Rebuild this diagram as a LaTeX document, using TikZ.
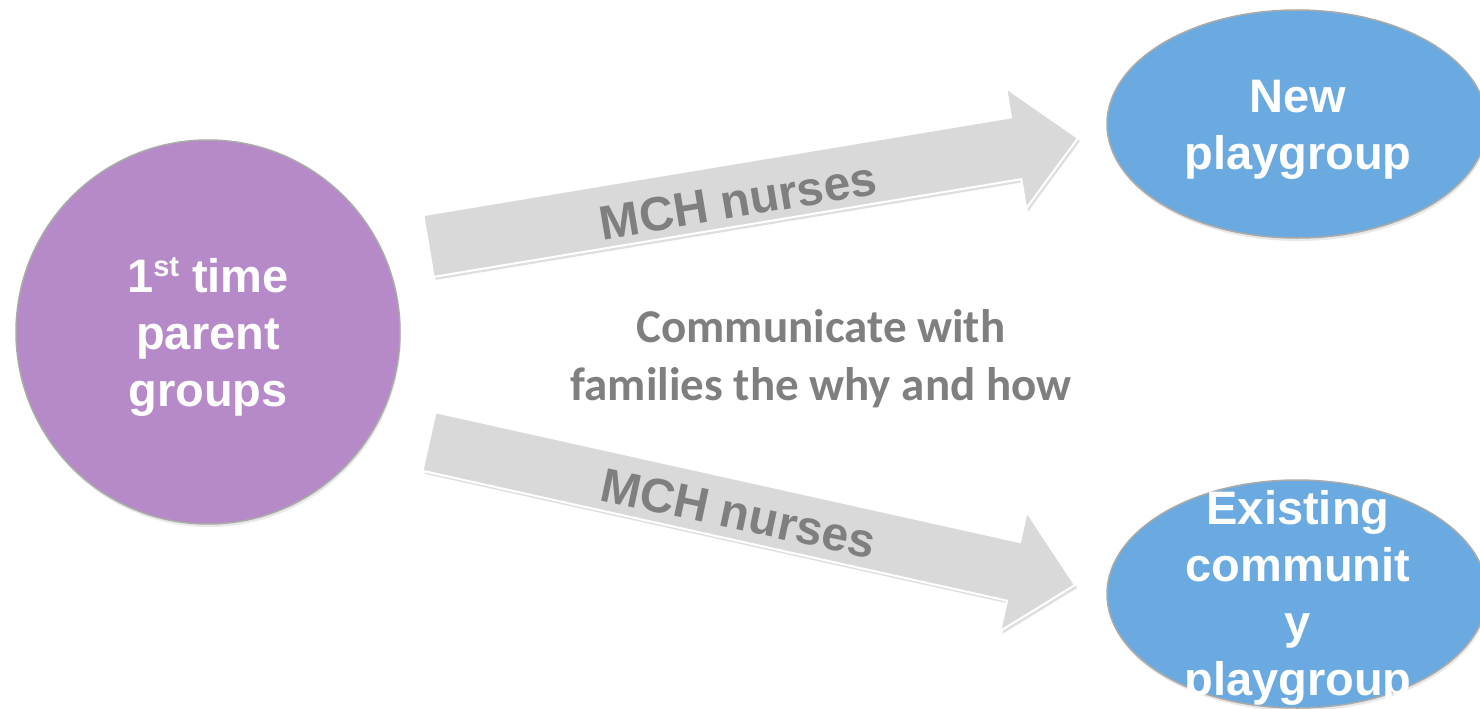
\documentclass[tikz,border=0pt]{standalone}
\usepackage{fontspec}
\setmainfont{Liberation Sans}
\newfontfamily\calib{Carlito}
\usetikzlibrary{calc,shadows,shapes.geometric}
\definecolor{purplefill}{RGB}{182,137,200}
\definecolor{bluefill}{RGB}{106,170,225}
\definecolor{outlinegray}{RGB}{170,170,170}
\definecolor{arrowgray}{RGB}{217,217,217}
\definecolor{textgray}{RGB}{127,127,127}
\newcommand\blockarr[6]{%
  \coordinate (#6base) at ($(#2)!#5!(#1)$);
  \filldraw[blockarrowstyle] ($(#1)!#3!90:(#2)$) -- ($(#6base)!#3!-90:(#1)$) -- ($(#6base)!#4!-90:(#1)$) -- (#2) -- ($(#6base)!#4!90:(#1)$) -- ($(#6base)!#3!90:(#1)$) -- ($(#1)!#3!-90:(#2)$) -- cycle;
}
\begin{document}
\begin{tikzpicture}[x=1pt,y=-1pt,
  bubble/.style={draw=outlinegray, line width=1.5pt,
    drop shadow={opacity=0.18, shadow xshift=1pt, shadow yshift=-3pt}},
  purplecircle/.style={bubble, circle, fill=purplefill, minimum size=384pt, inner sep=0pt},
  blueellipse/.style={bubble, ellipse, fill=bluefill, minimum width=380pt, minimum height=228pt, inner sep=0pt},
  whitetext/.style={text=white, font={\fontsize{47}{57}\selectfont\bfseries}, align=center, inner sep=0pt},
  arrowlabel/.style={text=textgray, font={\fontsize{48}{58}\selectfont\bfseries}, inner sep=0pt},
  midtext/.style={text=textgray, font={\calib\fontsize{47}{58}\selectfont\bfseries}, align=center, inner sep=0pt},
  blockarrowstyle/.style={fill=arrowgray, draw=white, line width=2pt, line join=miter,
    drop shadow={opacity=0.25, shadow xshift=2pt, shadow yshift=-3pt}}
]
\fill[white] (0,0) rectangle (1480,709);
\useasboundingbox (0,0) rectangle (1480,709);

% arrows
\coordinate (tail1) at (428.5,246);
\coordinate (tip1) at (1078,138);
\coordinate (tail2) at (429,441.5);
\coordinate (tip2) at (1075,585);
\blockarr{tail1}{tip1}{31.3pt}{61pt}{62.7pt}{a1}
\blockarr{tail2}{tip2}{30pt}{61pt}{63pt}{a2}
\path (tail1) -- (tip1) node[arrowlabel, pos=0.475, rotate=9.5, yshift=-6pt] (lab1) {MCH nurses};
\path (tail2) -- (tip2) node[arrowlabel, pos=0.48, rotate=-12, yshift=-3pt] (lab2) {MCH nurses};

% shapes
\node[purplecircle] (parent) at (208,332) {};
\node[whitetext] (parenttext) at (208,337) {1\raisebox{16pt}{\fontsize{29}{29}\selectfont st} time\\parent\\groups};
\node[blueellipse] (newpg) at (1297,124) {};
\node[whitetext] (newpgtext) at (1298,129.5) {New\\playgroup};
\node[blueellipse] (exist) at (1297,594) {};
\node[whitetext] (existtext) at (1298,598) {Existing\\communit\\y\\playgroup};

% middle text
\node[midtext] (mid) at (821,359) {Communicate with\\families the why and how};
\end{tikzpicture}
\end{document}
